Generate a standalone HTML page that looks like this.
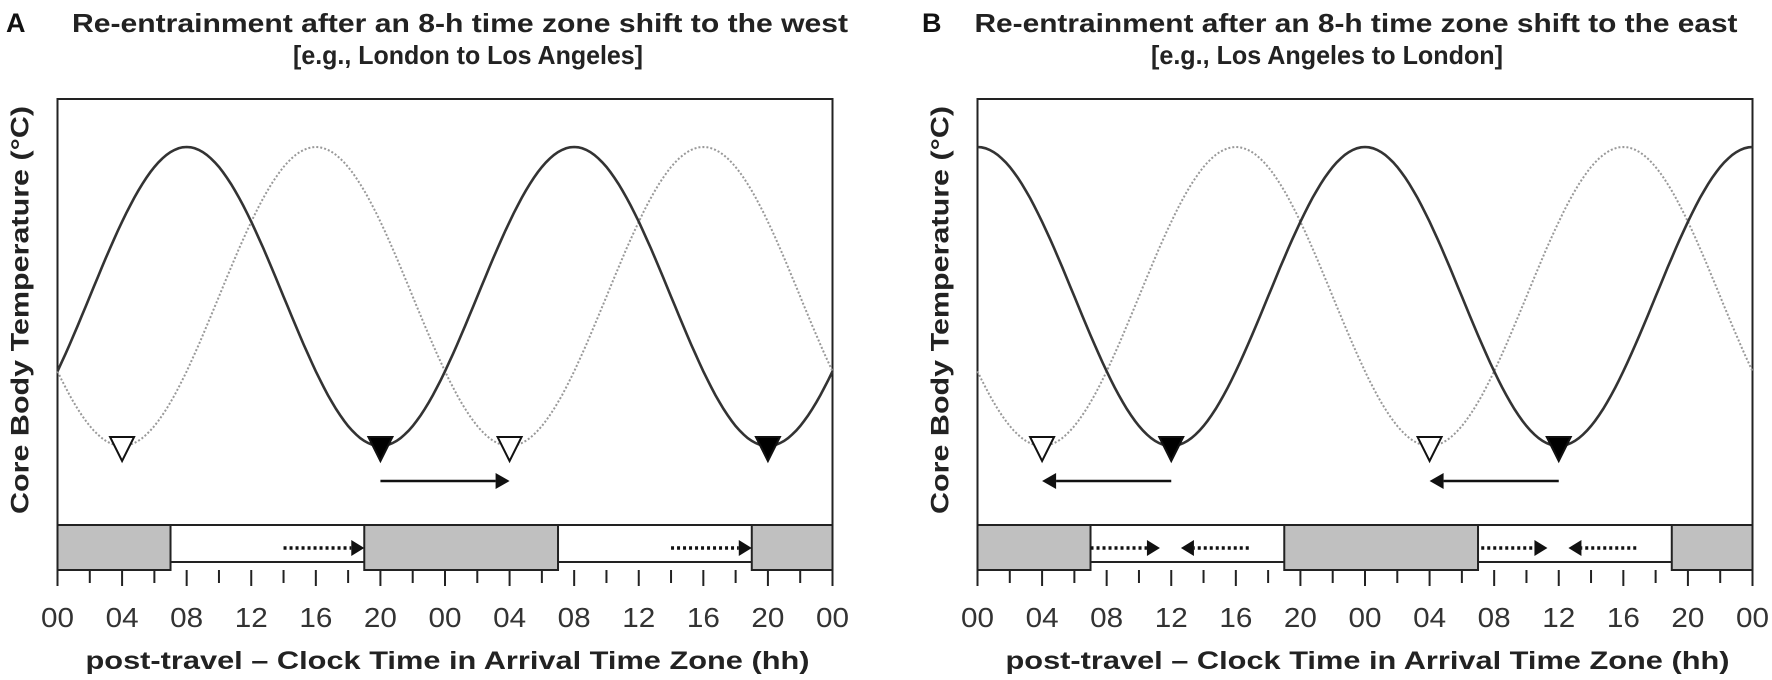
<!DOCTYPE html>
<html><head><meta charset="utf-8"><style>
html,body{margin:0;padding:0;background:#fff;}
svg{display:block;font-family:"Liberation Sans",Arial,sans-serif;}
</style></head><body>
<svg id="s" width="1772" height="680" viewBox="0 0 1772 680" xmlns="http://www.w3.org/2000/svg">
<text x="6" y="32" font-size="27" font-weight="bold" fill="#111">A</text>
<text x="922" y="32" font-size="27" font-weight="bold" fill="#111">B</text>
<text x="460" y="32" font-size="26" font-weight="bold" fill="#222" text-anchor="middle" textLength="776" lengthAdjust="spacingAndGlyphs">Re-entrainment after an 8-h time zone shift to the west</text>
<text x="468" y="64" font-size="26" font-weight="bold" fill="#222" text-anchor="middle" textLength="350" lengthAdjust="spacingAndGlyphs">[e.g., London to Los Angeles]</text>
<text x="1356" y="32" font-size="26" font-weight="bold" fill="#222" text-anchor="middle" textLength="763" lengthAdjust="spacingAndGlyphs">Re-entrainment after an 8-h time zone shift to the east</text>
<text x="1327" y="64" font-size="26" font-weight="bold" fill="#222" text-anchor="middle" textLength="352" lengthAdjust="spacingAndGlyphs">[e.g., Los Angeles to London]</text>
<g id="g"></g>
</svg>
<script>
var g=document.getElementById('g'),h='';
function panel(x0,solidMin,dir){
  var x1=x0+775,k=775/48,top=99,pb=525,bb=570,c=296.5,a=149.5;
  var X=function(t){return x0+t*k;};
  h+='<rect x="'+x0+'" y="'+top+'" width="775" height="'+(pb-top)+'" fill="none" stroke="#222" stroke-width="2"/>';
  h+='<rect x="'+x0+'" y="'+pb+'" width="775" height="'+(bb-pb-8)+'" fill="#fff" stroke="#222" stroke-width="2"/>';
  [[0,7],[19,31],[43,48]].forEach(function(r){h+='<rect x="'+X(r[0])+'" y="'+pb+'" width="'+(X(r[1])-X(r[0]))+'" height="'+(bb-pb)+'" fill="#c0c0c0" stroke="#222" stroke-width="2"/>';});
  h+='<line x1="'+x0+'" y1="'+pb+'" x2="'+x0+'" y2="585" stroke="#222" stroke-width="2"/>';
  for(var t=0;t<=48;t+=2){h+='<line x1="'+X(t)+'" y1="'+bb+'" x2="'+X(t)+'" y2="'+(t%4==0?586:583)+'" stroke="#222" stroke-width="2"/>';}
  var labs=['00','04','08','12','16','20'];
  for(var t=0;t<=48;t+=4){h+='<text x="'+X(t)+'" y="627" font-size="28" fill="#333" text-anchor="middle" textLength="33" lengthAdjust="spacingAndGlyphs">'+labs[(t/4)%6]+'</text>';}
  h+='<text x="'+(x0+390)+'" y="669" font-size="25" font-weight="bold" fill="#222" text-anchor="middle" textLength="724" lengthAdjust="spacingAndGlyphs">post-travel – Clock Time in Arrival Time Zone (hh)</text>';
  h+='<text transform="translate('+(x0-29)+',310) rotate(-90)" font-size="25" font-weight="bold" fill="#222" text-anchor="middle" textLength="408" lengthAdjust="spacingAndGlyphs">Core Body Temperature (°C)</text>';
  function curve(m){var p='';for(var t=0;t<=48;t+=0.25){var y=c+a*Math.cos(2*Math.PI*(t-m)/24);p+=(t?'L':'M')+X(t).toFixed(1)+' '+y.toFixed(1);}return p;}
  h+='<path d="'+curve(4)+'" fill="none" stroke="#999" stroke-width="2" stroke-dasharray="2,2"/>';
  h+='<path d="'+curve(solidMin)+'" fill="none" stroke="#333" stroke-width="2.6"/>';
  function tri(t,fill){var x=X(t);h+='<polygon points="'+(x-12)+',437 '+(x+12)+',437 '+x+',461" fill="'+fill+'" stroke="#111" stroke-width="2"/>';}
  tri(4,'#fff');tri(28,'#fff');tri(solidMin,'#000');tri(solidMin+24,'#000');
  function arrow(t1,t2,y,dot){var xa=X(t1),xb=X(t2),s=xb>xa?1:-1,l=dot?13:14;
    h+='<line x1="'+xa+'" y1="'+y+'" x2="'+(xb-s*l)+'" y2="'+y+'" stroke="#111" stroke-width="'+(dot?3.5:2.5)+'"'+(dot?' stroke-dasharray="3,3"':'')+'/>';
    h+='<polygon points="'+xb+','+y+' '+(xb-s*l)+','+(y-8)+' '+(xb-s*l)+','+(y+8)+'" fill="#111"/>';}
  if(dir>0){arrow(20,28,481,0);arrow(14,19,548,1);arrow(38,43,548,1);}
  else{arrow(12,4,481,0);arrow(36,28,481,0);arrow(7,11.3,548,1);arrow(16.8,12.6,548,1);arrow(31.2,35.3,548,1);arrow(40.8,36.6,548,1);}
}
panel(57.5,20,1);
panel(977.5,12,-1);
g.innerHTML=h;
</script>
</body></html>
